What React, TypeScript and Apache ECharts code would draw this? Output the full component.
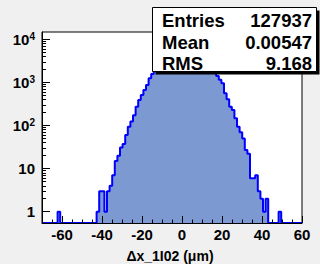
import React, { useEffect, useRef } from "react";
import * as echarts from "echarts";

const X_MIN = -70;
const X_MAX = 60;
const BIN_WIDTH = 1.3;
const Y_MIN = 0.547;
const Y_MAX = 14760;

// counts per bin (100 bins of 1.3 from -70 to 60)
const COUNTS = [
  0, 0, 0, 0, 0, 0, 1, 0, 0, 0,
  0, 0, 0, 0, 0, 0, 0, 0, 0, 0,
  0, 1, 3, 3, 1, 3, 4, 7, 15, 20,
  31, 37, 60, 94, 123, 174, 274, 390, 510, 665,
  870, 1245, 1560, 2050, 2600, 3150, 3800, 4400, 5000, 5600,
  6100, 6500, 6900, 7150, 7200, 7100, 6700, 6400, 6000, 5500,
  5000, 4500, 4000, 3450, 2950, 2450, 1900, 1400, 1150, 955,
  560, 405, 274, 230, 147, 94, 70, 50, 27, 22,
  6, 6, 7, 3, 2, 1, 2, 0, 0, 0,
  0, 1, 0, 0, 0, 0, 0, 0, 0, 0,
];

const X_LABELS = [-60, -40, -20, 0, 20, 40, 60];
const X_MINOR = [-65, -60, -55, -50, -45, -40, -35, -30, -25, -20, -15, -10, -5, 0, 5, 10, 15, 20, 25, 30, 35, 40, 45, 50, 55, 60];
const Y_MAJOR = [1, 10, 100, 1000, 10000];
const Y_MINOR = [
  2, 3, 4, 5, 6, 7, 8, 9,
  20, 30, 40, 50, 60, 70, 80, 90,
  200, 300, 400, 500, 600, 700, 800, 900,
  2000, 3000, 4000, 5000, 6000, 7000, 8000, 9000,
];
const STATS_LABELS = ["Entries", "Mean", "RMS"];
const STATS_VALUES = ["127937", "0.00547", "9.168"];
const X_TITLE = "Δx_1I02 (μm)";

const FONT = "'Liberation Sans', Arial, Helvetica, sans-serif";

export default function App() {
  const ref = useRef<HTMLDivElement>(null);

  useEffect(() => {
    const chart = echarts.init(ref.current!, null, { renderer: "svg" });

    const stepData: [number, number][] = COUNTS.map((c, i) => [
      X_MIN + i * BIN_WIDTH,
      Math.max(c, Y_MIN),
    ]);
    stepData.push([X_MAX, Math.max(COUNTS[COUNTS.length - 1], Y_MIN)]);

    const rowY = [20.3, 42, 63.7];
    const statsTexts: any[] = [];
    STATS_LABELS.forEach((lab, i) => {
      statsTexts.push({
        type: "text",
        z: 102,
        x: 162,
        y: rowY[i],
        style: {
          text: lab,
          fill: "#000",
          font: `bold 18.5px ${FONT}`,
          textAlign: "left",
          textVerticalAlign: "middle",
        },
      });
      statsTexts.push({
        type: "text",
        z: 102,
        x: 312,
        y: rowY[i],
        style: {
          text: STATS_VALUES[i],
          fill: "#000",
          font: `bold 18.5px ${FONT}`,
          textAlign: "right",
          textVerticalAlign: "middle",
        },
      });
    });

    const option: any = {
      animation: false,
      backgroundColor: "#f0f0f0",
      grid: {
        left: 42,
        right: 18,
        top: 32,
        bottom: 41,
        show: true,
        backgroundColor: "#ffffff",
        borderColor: "#000000",
        borderWidth: 1,
        containLabel: false,
        outerBoundsMode: "none",
      },
      xAxis: [
        {
          type: "value",
          min: X_MIN,
          max: X_MAX,
          position: "bottom",
          z: 5,
          axisLine: { show: true, onZero: false, lineStyle: { color: "#000", width: 1 } },
          axisTick: {
            show: true,
            inside: true,
            length: 7,
            customValues: X_LABELS,
            lineStyle: { color: "#000", width: 1 },
          },
          axisLabel: {
            show: true,
            customValues: X_LABELS,
            margin: 4,
            color: "#000",
            fontSize: 15,
            fontWeight: "bold",
            fontFamily: FONT,
          },
          splitLine: { show: false },
          name: X_TITLE,
          nameLocation: "middle",
          nameGap: 26,
          nameTextStyle: {
            color: "#000",
            fontSize: 14,
            fontWeight: "bold",
            fontFamily: FONT,
            padding: [0, 4, 0, 0],
          },
        },
        {
          type: "value",
          min: X_MIN,
          max: X_MAX,
          position: "bottom",
          z: 5,
          axisLine: { show: false, onZero: false },
          axisTick: {
            show: true,
            inside: true,
            length: 3.5,
            customValues: X_MINOR,
            lineStyle: { color: "#000", width: 1 },
          },
          axisLabel: { show: false },
          splitLine: { show: false },
        },
      ],
      yAxis: [
        {
          type: "log",
          logBase: 10,
          min: Y_MIN,
          max: Y_MAX,
          position: "left",
          z: 5,
          axisLine: { show: true, onZero: false, lineStyle: { color: "#000", width: 1 } },
          axisTick: {
            show: true,
            inside: true,
            length: 8,
            customValues: Y_MAJOR,
            lineStyle: { color: "#000", width: 1 },
          },
          axisLabel: {
            show: true,
            customValues: Y_MAJOR,
            margin: 7,
            color: "#000",
            fontFamily: FONT,
            formatter: (v: number) => {
              const e = Math.round(Math.log10(v));
              if (e === 0) return "{b|1}";
              if (e === 1) return "{b|10}";
              return `{p|10}{s|${e}}`;
            },
            rich: {
              b: { fontSize: 15, fontWeight: "bold", fontFamily: FONT, color: "#000" },
              p: {
                fontSize: 15,
                fontWeight: "bold",
                fontFamily: FONT,
                color: "#000",
                lineHeight: 15,
                verticalAlign: "bottom",
              },
              s: {
                fontSize: 10,
                fontWeight: "bold",
                fontFamily: FONT,
                color: "#000",
                lineHeight: 10,
                verticalAlign: "top",
                padding: [0, 0, 10, 0],
              },
            },
          },
          splitLine: { show: false },
        },
        {
          type: "log",
          logBase: 10,
          min: Y_MIN,
          max: Y_MAX,
          position: "left",
          z: 5,
          axisLine: { show: false, onZero: false },
          axisTick: {
            show: true,
            inside: true,
            length: 4,
            customValues: Y_MINOR,
            lineStyle: { color: "#000", width: 1 },
          },
          axisLabel: { show: false },
          splitLine: { show: false },
        },
      ],
      series: [
        {
          type: "line",
          xAxisIndex: 0,
          yAxisIndex: 0,
          data: stepData,
          step: "end",
          showSymbol: false,
          symbol: "none",
          clip: true,
          lineStyle: { color: "#0000ff", width: 2 },
          areaStyle: { color: "#7d99d1", opacity: 1, origin: "start" },
          z: 2,
        },
      ],
      graphic: [
        {
          type: "rect",
          z: 100,
          shape: { x: 155.5, y: 10.5, width: 164, height: 64 },
          style: { fill: "#000" },
        },
        {
          type: "rect",
          z: 101,
          shape: { x: 152.5, y: 7.5, width: 164, height: 64 },
          style: { fill: "#fff", stroke: "#000", lineWidth: 1 },
        },
        ...statsTexts,
      ],
    };

    chart.setOption(option);
    return () => chart.dispose();
  }, []);

  return (
    <div
      ref={ref}
      style={{ position: "absolute", left: 0, top: 0, width: 320, height: 264 }}
    />
  );
}
